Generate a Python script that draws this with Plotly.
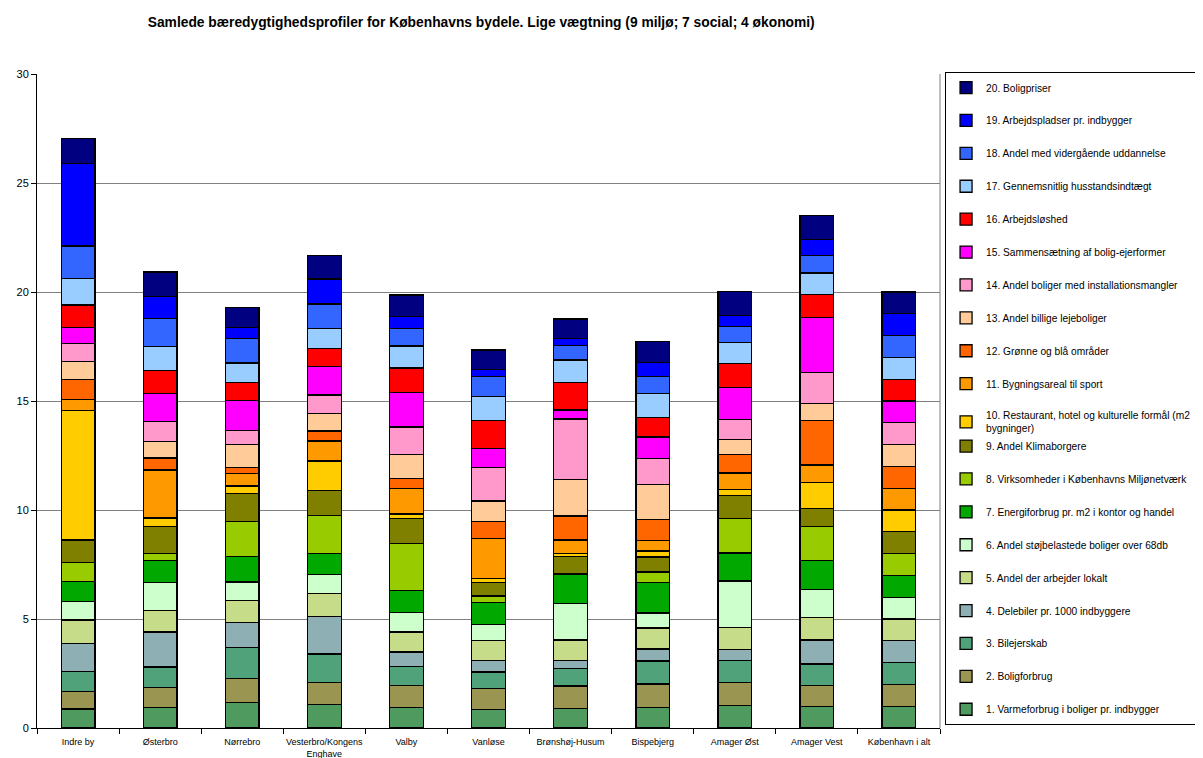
import plotly.graph_objects as go

# bydele
bydele = ["Indre by", "Østerbro", "Nørrebro", "Vesterbro/Kongens<br>Enghave", "Valby",
          "Vanløse", "Brønshøj-Husum", "Bispebjerg", "Amager Øst", "Amager Vest",
          "København i alt"]

indikatorer = [
    "1. Varmeforbrug i boliger pr. indbygger",
    "2. Boligforbrug",
    "3. Bilejerskab",
    "4. Delebiler pr. 1000 indbyggere",
    "5. Andel der arbejder lokalt",
    "6. Andel støjbelastede boliger over 68db",
    "7. Energiforbrug pr. m2 i kontor og handel",
    "8. Virksomheder i Københavns Miljønetværk",
    "9. Andel Klimaborgere",
    "10. Restaurant, hotel og kulturelle formål (m2<br>bygninger)",
    "11. Bygningsareal til sport",
    "12. Grønne og blå områder",
    "13. Andel billige lejeboliger",
    "14. Andel boliger med installationsmangler",
    "15. Sammensætning af bolig-ejerformer",
    "16. Arbejdsløshed",
    "17. Gennemsnitlig husstandsindtægt",
    "18. Andel med vidergående uddannelse",
    "19. Arbejdspladser pr. indbygger",
    "20. Boligpriser",
]

farver = ["#4f9a5e", "#9a9550", "#4fa27a", "#8eb0b4", "#c6dc88", "#ccffcc", "#00a800",
          "#99cc00", "#808000", "#ffcc00", "#ff9900", "#ff6600", "#ffcc99", "#ff99cc",
          "#ff00ff", "#ff0000", "#99ccff", "#3366ff", "#0000ff", "#000080"]

# one list per bydel, indicator 1..20
indre_by = [0.87, 0.80, 0.91, 1.29, 1.08, 0.84, 0.92, 0.89, 1.02, 5.94,
            0.52, 0.92, 0.82, 0.83, 0.71, 1.04, 1.23, 1.48, 3.78, 1.16]
oesterbro = [0.95, 0.90, 0.95, 1.60, 1.00, 1.28, 1.01, 0.32, 1.22, 0.40,
             2.20, 0.56, 0.76, 0.92, 1.27, 1.07, 1.08, 1.29, 1.02, 1.12]
noerrebro = [1.18, 1.10, 1.40, 1.15, 1.01, 0.86, 1.16, 1.60, 1.31, 0.33,
             0.58, 0.28, 1.03, 0.67, 1.35, 0.85, 0.88, 1.12, 0.50, 0.94]
vesterbro = [1.09, 1.01, 1.29, 1.73, 1.06, 0.85, 0.98, 1.73, 1.16, 1.35,
             0.92, 0.45, 0.82, 0.84, 1.31, 0.83, 0.91, 1.12, 1.15, 1.08]
valby = [0.93, 1.03, 0.87, 0.65, 0.92, 0.91, 1.00, 2.16, 1.13, 0.22,
         1.16, 0.46, 1.10, 1.27, 1.58, 1.12, 1.02, 0.79, 0.56, 0.98]
vanloese = [0.86, 0.96, 0.75, 0.54, 0.90, 0.75, 1.01, 0.28, 0.61, 0.19,
            1.83, 0.78, 0.95, 1.53, 0.89, 1.27, 1.11, 0.90, 0.32, 0.91]
broenshoej = [0.89, 1.04, 0.81, 0.37, 0.93, 1.67, 1.33, 0.05, 0.77, 0.15,
              0.61, 1.10, 1.69, 2.77, 0.41, 1.26, 1.03, 0.67, 0.31, 0.90]
bispebjerg = [0.95, 1.07, 1.06, 0.55, 0.96, 0.68, 1.42, 0.46, 0.69, 0.28,
              0.47, 0.97, 1.62, 1.18, 0.99, 0.88, 1.10, 0.78, 0.67, 0.94]
amager_oest = [1.04, 1.06, 1.01, 0.50, 1.01, 2.13, 1.28, 1.59, 1.04, 0.27,
               0.77, 0.86, 0.67, 0.92, 1.48, 1.09, 0.95, 0.75, 0.49, 1.12]
amager_vest = [0.98, 0.98, 0.97, 1.11, 1.04, 1.28, 1.32, 1.56, 0.82, 1.19,
               0.82, 2.02, 0.80, 1.42, 2.52, 1.06, 0.98, 0.82, 0.71, 1.10]
koebenhavn = [1.0] * 20

profiler = [indre_by, oesterbro, noerrebro, vesterbro, valby, vanloese,
            broenshoej, bispebjerg, amager_oest, amager_vest, koebenhavn]

fig = go.Figure()
for i, navn in enumerate(indikatorer):
    # 9 and 10 share a group so the two-line entry doesn't add extra gap
    gruppe = "g9" if i in (8, 9) else f"g{i + 1}"
    fig.add_trace(go.Bar(
        x=bydele,
        y=[p[i] for p in profiler],
        name=navn,
        legendgroup=gruppe,
        legendrank=1000 - 10 * i,
        marker=dict(color=farver[i], line=dict(color="black", width=1.3)),
    ))

# page body has an 8px margin, so the figure is 8px smaller than the window
fig.update_layout(
    barmode="stack",
    bargap=0.59,
    width=1195, height=750,
    margin=dict(l=29, r=263, t=66, b=30, autoexpand=False),
    paper_bgcolor="white",
    plot_bgcolor="white",
    font=dict(family="Arial, Liberation Sans", color="black", size=10),
    title=dict(
        text="<b>Samlede bæredygtighedsprofiler for Københavns bydele. Lige vægtning (9 miljø; 7 social; 4 økonomi)</b>",
        x=0.396, xanchor="center", y=0.981, yanchor="middle",
        font=dict(size=13.8),
    ),
    legend=dict(
        traceorder="grouped",
        tracegroupgap=13.9,
        itemwidth=30,
        maxheight=740,
        x=1.0056, xanchor="left", y=1.003, yanchor="top",
        bordercolor="black", borderwidth=1, bgcolor="white",
        font=dict(size=10.2),
    ),
    showlegend=True,
)

fig.update_yaxes(
    range=[0, 30], dtick=5, automargin=False,
    showgrid=True, gridcolor="#808080", gridwidth=1,
    showline=True, linecolor="black", linewidth=1,
    ticks="outside", ticklen=5, tickcolor="black",
    tickfont=dict(size=11), zeroline=False,
)
fig.update_xaxes(
    automargin=False,
    showline=True, linecolor="black", linewidth=1,
    ticks="outside", ticklen=5, tickcolor="black", tickson="boundaries",
    ticklabelstandoff=5,
    tickfont=dict(size=9), tickangle=0,
)

# right frame of plot area
fig.add_shape(type="line", xref="paper", yref="paper", x0=1, x1=1, y0=0, y1=1,
              line=dict(color="#808080", width=1))

fig.write_html("out.html")
